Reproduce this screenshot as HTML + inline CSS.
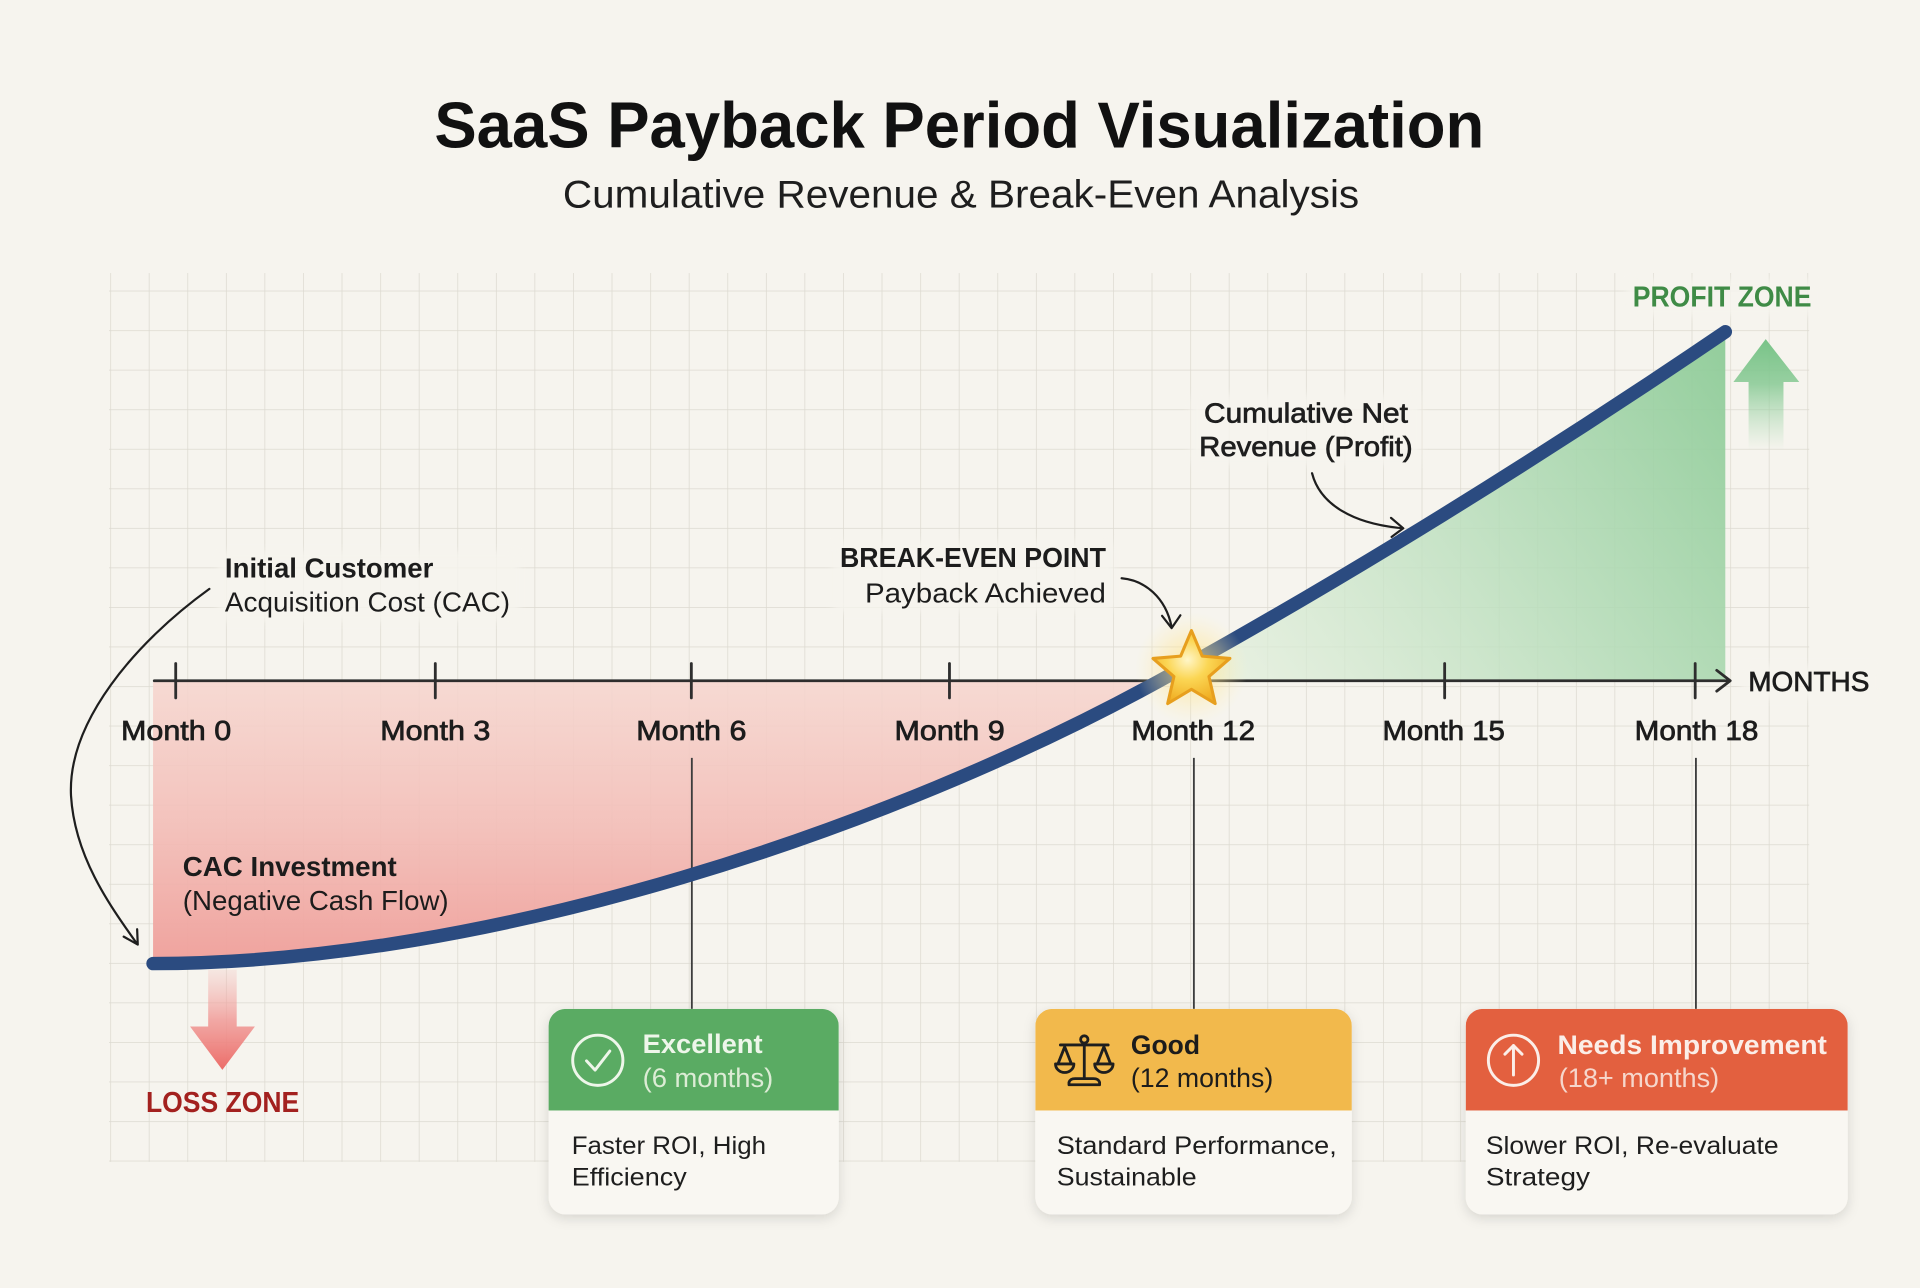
<!DOCTYPE html>
<html>
<head>
<meta charset="utf-8">
<style>
html,body{margin:0;padding:0;background:#f6f4ee;width:1920px;height:1288px;overflow:hidden}
svg{display:block}
</style>
</head>
<body>
<svg width="1920" height="1288" viewBox="0 0 1568 1052" preserveAspectRatio="none" font-family="'Liberation Sans', Arial, sans-serif">
  <defs>
    <pattern id="grid" x="90" y="237.4" width="31.5" height="32.3" patternUnits="userSpaceOnUse">
      <rect x="-0.5" y="0" width="1.1" height="32.3" fill="#dcd9d0"/>
      <rect x="0" y="-0.5" width="31.5" height="1.1" fill="#dcd9d0"/>
    </pattern>
    <linearGradient id="redfill" x1="0" y1="556" x2="0" y2="790" gradientUnits="userSpaceOnUse">
      <stop offset="0" stop-color="#f6d6cf" stop-opacity="0.88"/>
      <stop offset="0.5" stop-color="#f3bdb7" stop-opacity="0.9"/>
      <stop offset="1" stop-color="#ef9d98" stop-opacity="0.95"/>
    </linearGradient>
    <linearGradient id="greenfill" x1="1409" y1="271" x2="1000" y2="556" gradientUnits="userSpaceOnUse">
      <stop offset="0" stop-color="#8dcb97" stop-opacity="0.95"/>
      <stop offset="0.45" stop-color="#b2dbb6" stop-opacity="0.85"/>
      <stop offset="1" stop-color="#e2efdc" stop-opacity="0.7"/>
    </linearGradient>
    <linearGradient id="greenarrow" x1="0" y1="277" x2="0" y2="368" gradientUnits="userSpaceOnUse">
      <stop offset="0" stop-color="#78c387" stop-opacity="1"/>
      <stop offset="0.4" stop-color="#86c993" stop-opacity="0.85"/>
      <stop offset="1" stop-color="#a8d9b0" stop-opacity="0"/>
    </linearGradient>
    <linearGradient id="redarrow" x1="0" y1="792" x2="0" y2="874" gradientUnits="userSpaceOnUse">
      <stop offset="0" stop-color="#f3b1ae" stop-opacity="0.2"/>
      <stop offset="0.5" stop-color="#f09592" stop-opacity="0.8"/>
      <stop offset="1" stop-color="#ec6c68" stop-opacity="1"/>
    </linearGradient>
    <radialGradient id="glow" cx="0.5" cy="0.5" r="0.5">
      <stop offset="0" stop-color="#ffe27a" stop-opacity="0.75"/>
      <stop offset="0.6" stop-color="#ffe9a0" stop-opacity="0.35"/>
      <stop offset="1" stop-color="#fff2c0" stop-opacity="0"/>
    </radialGradient>
    <radialGradient id="starfill" cx="0.45" cy="0.4" r="0.6">
      <stop offset="0" stop-color="#fff6c8"/>
      <stop offset="0.45" stop-color="#fbd654"/>
      <stop offset="1" stop-color="#f0ad22"/>
    </radialGradient>
    <filter id="shadow" x="-20%" y="-20%" width="140%" height="150%">
      <feDropShadow dx="0" dy="3" stdDeviation="5" flood-color="#000" flood-opacity="0.13"/>
    </filter>
    <filter id="soft" x="-10%" y="-30%" width="120%" height="160%">
      <feGaussianBlur stdDeviation="3"/>
    </filter>
    <clipPath id="c1"><rect x="448" y="824" width="237" height="168" rx="14"/></clipPath>
    <clipPath id="c2"><rect x="845.5" y="824" width="258.5" height="168" rx="14"/></clipPath>
    <clipPath id="c3"><rect x="1197" y="824" width="312" height="168" rx="14"/></clipPath>
  </defs>

  <rect x="0" y="0" width="1568" height="1052" fill="#f6f4ee"/>

  <rect x="89" y="223" width="1388.5" height="726" fill="url(#grid)"/>

  <text x="354.7" y="120.3" font-size="53" font-weight="bold" fill="#111" textLength="857.5" lengthAdjust="spacingAndGlyphs">SaaS Payback Period Visualization</text>
  <text x="459.7" y="169.3" font-size="32" fill="#1e1e1e" textLength="650.3" lengthAdjust="spacingAndGlyphs">Cumulative Revenue &amp; Break-Even Analysis</text>

  <path d="M125,787 C400,787 727,677 947,556 L125,556 Z" fill="url(#redfill)"/>
  <path d="M947,556 C1097,473.5 1259,373 1409,271 L1409,556 Z" fill="url(#greenfill)"/>

  <path d="M1442,277 L1469.4,312 L1456.5,312 L1456.5,368 L1428,368 L1428,312 L1415.6,312 Z" fill="url(#greenarrow)"/>
  <path d="M170,792 L193.3,792 L193.3,838.4 L208.2,838.4 L181.6,873.8 L155.2,838.4 L170,838.4 Z" fill="url(#redarrow)"/>

  <g stroke="#3d3d3d" stroke-width="1.5">
    <line x1="565" y1="619" x2="565" y2="825"/>
    <line x1="975" y1="619" x2="975" y2="825"/>
    <line x1="1385" y1="619" x2="1385" y2="825"/>
  </g>

  <g stroke="#2e2e2e" stroke-width="2.3" fill="none" stroke-linecap="round" stroke-linejoin="round">
    <line x1="126" y1="556" x2="1412" y2="556"/>
    <polyline points="1402,547.5 1413,556 1402,564.5"/>
    <line x1="143.5" y1="542" x2="143.5" y2="570"/>
    <line x1="355.5" y1="542" x2="355.5" y2="570"/>
    <line x1="564.6" y1="542" x2="564.6" y2="570"/>
    <line x1="775.4" y1="542" x2="775.4" y2="570"/>
    <line x1="1179.8" y1="542" x2="1179.8" y2="570"/>
    <line x1="1384.4" y1="542" x2="1384.4" y2="570"/>
  </g>

  <path d="M125,787 C400,787 727,677 947,556 C1097,473.5 1259,373 1409,271" fill="none" stroke="#2b4b80" stroke-width="11" stroke-linecap="round" stroke-linejoin="round"/>

  <circle cx="973" cy="546" r="46" fill="url(#glow)"/>
  <path d="M973,515 L981.8,535.9 L1004.4,537.8 L987.3,552.6 L992.4,574.7 L973,563 L953.6,574.7 L958.7,552.6 L941.6,537.8 L964.2,535.9 Z" fill="url(#starfill)" stroke="#e79f1e" stroke-width="2.5" stroke-linejoin="round"/>

  <g fill="#f6f4ee" opacity="0.85" filter="url(#soft)">
    <rect x="178" y="450" width="246" height="58" rx="6"/>
    <rect x="680" y="442" width="230" height="58" rx="6"/>
    <rect x="972" y="322" width="188" height="58" rx="6"/>
    <rect x="1328" y="228" width="156" height="30" rx="6"/>
    <rect x="1422" y="543" width="110" height="28" rx="6"/>
  </g>

  <text x="1333.4" y="250.5" font-size="23.5" font-weight="bold" fill="#3f8b46" textLength="146" lengthAdjust="spacingAndGlyphs">PROFIT ZONE</text>
  <text x="983.3" y="344.9" font-size="23" fill="#1e1e1e" stroke="#1e1e1e" stroke-width="0.6" textLength="166.5" lengthAdjust="spacingAndGlyphs">Cumulative Net</text>
  <text x="979.3" y="372.4" font-size="23" fill="#1e1e1e" stroke="#1e1e1e" stroke-width="0.6" textLength="174.4" lengthAdjust="spacingAndGlyphs">Revenue (Profit)</text>

  <text x="183.7" y="471.5" font-size="22.7" font-weight="bold" fill="#1c1c1c" textLength="170.2" lengthAdjust="spacingAndGlyphs">Initial Customer</text>
  <text x="183.7" y="499.5" font-size="22.7" fill="#1c1c1c" textLength="232.8" lengthAdjust="spacingAndGlyphs">Acquisition Cost (CAC)</text>

  <text x="686" y="463.3" font-size="22.7" font-weight="bold" fill="#1c1c1c" textLength="217.2" lengthAdjust="spacingAndGlyphs">BREAK-EVEN POINT</text>
  <text x="706.4" y="492.2" font-size="22.7" fill="#1c1c1c" textLength="196.8" lengthAdjust="spacingAndGlyphs">Payback Achieved</text>

  <text x="1427.7" y="564.3" font-size="23" fill="#1c1c1c" stroke="#1c1c1c" stroke-width="0.6" textLength="99" lengthAdjust="spacingAndGlyphs">MONTHS</text>

  <g font-size="22.7" fill="#1c1c1c" stroke="#1c1c1c" stroke-width="0.6" text-anchor="middle">
    <text x="143.8" y="604.3" textLength="90" lengthAdjust="spacingAndGlyphs">Month 0</text>
    <text x="355.5" y="604.3" textLength="90" lengthAdjust="spacingAndGlyphs">Month 3</text>
    <text x="564.6" y="604.3" textLength="90" lengthAdjust="spacingAndGlyphs">Month 6</text>
    <text x="775.5" y="604.3" textLength="90" lengthAdjust="spacingAndGlyphs">Month 9</text>
    <text x="974.5" y="604.3" textLength="101" lengthAdjust="spacingAndGlyphs">Month 12</text>
    <text x="1179" y="604.3" textLength="100" lengthAdjust="spacingAndGlyphs">Month 15</text>
    <text x="1385.5" y="604.3" textLength="101" lengthAdjust="spacingAndGlyphs">Month 18</text>
  </g>

  <text x="149.3" y="715.4" font-size="22.7" font-weight="bold" fill="#1c1c1c" textLength="174.7" lengthAdjust="spacingAndGlyphs">CAC Investment</text>
  <text x="149.3" y="743.2" font-size="22.7" fill="#1c1c1c" textLength="217.1" lengthAdjust="spacingAndGlyphs">(Negative Cash Flow)</text>

  <text x="119.2" y="908.4" font-size="23.5" font-weight="bold" fill="#a3211f" textLength="125.2" lengthAdjust="spacingAndGlyphs">LOSS ZONE</text>

  <g fill="none" stroke="#1e1e1e" stroke-width="1.8" stroke-linecap="round" stroke-linejoin="round">
    <path d="M171,481 C110,525 55,590 58,650 C61,700 90,740 112,771"/>
    <polyline points="101,765 112.5,771.5 112,759"/>
    <path d="M916,472.3 C935,474 952,488 956.8,512"/>
    <polyline points="949,503 956.8,513 964,502.5"/>
    <path d="M1071.5,386.5 C1078,412 1105,428 1145.8,431.5"/>
    <polyline points="1136,423 1146,431.5 1136.5,438.5"/>
  </g>

  <!-- Card 1 -->
  <g filter="url(#shadow)">
    <rect x="448" y="824" width="237" height="168" rx="14" fill="#f9f7f2"/>
  </g>
  <g clip-path="url(#c1)">
    <rect x="448" y="824" width="237" height="83" fill="#5aab63"/>
  </g>
  <circle cx="488.2" cy="866" r="20.5" fill="none" stroke="#eef6ea" stroke-width="2.4"/>
  <polyline points="479,866.5 486,874 498,858.5" fill="none" stroke="#eef6ea" stroke-width="2.4" stroke-linecap="round" stroke-linejoin="round"/>
  <text x="524.8" y="860.2" font-size="22" font-weight="bold" fill="#eef6ea" textLength="98" lengthAdjust="spacingAndGlyphs">Excellent</text>
  <text x="524.8" y="887.8" font-size="22" fill="#dcecd5" textLength="106.7" lengthAdjust="spacingAndGlyphs">(6 months)</text>
  <text x="466.9" y="942.4" font-size="20.5" fill="#1e1e1e" textLength="158.7" lengthAdjust="spacingAndGlyphs">Faster ROI, High</text>
  <text x="466.9" y="968.3" font-size="20.5" fill="#1e1e1e" textLength="93.9" lengthAdjust="spacingAndGlyphs">Efficiency</text>

  <!-- Card 2 -->
  <g filter="url(#shadow)">
    <rect x="845.5" y="824" width="258.5" height="168" rx="14" fill="#f9f7f2"/>
  </g>
  <g clip-path="url(#c2)">
    <rect x="845.5" y="824" width="258.5" height="83" fill="#f2b94c"/>
  </g>
  <g fill="none" stroke="#1e1e1e" stroke-width="2.3" stroke-linecap="round" stroke-linejoin="round">
    <line x1="885.5" y1="852" x2="885.5" y2="881"/>
    <circle cx="885.5" cy="849" r="3"/>
    <line x1="866" y1="853.5" x2="905" y2="853.5"/>
    <polyline points="864,869 869.5,855 875,869"/>
    <path d="M862,869 L877,869 A7.5,7 0 0 1 862,869 Z"/>
    <polyline points="896,869 901.5,855 907,869"/>
    <path d="M894,869 L909,869 A7.5,7 0 0 1 894,869 Z"/>
    <path d="M873,886 L898,886 L898,884 Q897,881 893,881 L878,881 Q874,881 873,884 Z"/>
  </g>
  <text x="923.6" y="861" font-size="22" font-weight="bold" fill="#1c1c1c" textLength="56.4" lengthAdjust="spacingAndGlyphs">Good</text>
  <text x="923.6" y="888" font-size="22" fill="#1c1c1c" textLength="116.2" lengthAdjust="spacingAndGlyphs">(12 months)</text>
  <text x="863" y="942.4" font-size="20.5" fill="#1e1e1e" textLength="228.7" lengthAdjust="spacingAndGlyphs">Standard Performance,</text>
  <text x="863" y="968.3" font-size="20.5" fill="#1e1e1e" textLength="114.3" lengthAdjust="spacingAndGlyphs">Sustainable</text>

  <!-- Card 3 -->
  <g filter="url(#shadow)">
    <rect x="1197" y="824" width="312" height="168" rx="14" fill="#f9f7f2"/>
  </g>
  <g clip-path="url(#c3)">
    <rect x="1197" y="824" width="312" height="83" fill="#e3603f"/>
  </g>
  <circle cx="1236" cy="866" r="20.5" fill="none" stroke="#fbeee8" stroke-width="2.4"/>
  <g fill="none" stroke="#fbeee8" stroke-width="2.4" stroke-linecap="round" stroke-linejoin="round">
    <line x1="1236" y1="878" x2="1236" y2="854"/>
    <polyline points="1229,861 1236,854 1243,861"/>
  </g>
  <text x="1272" y="861" font-size="22" font-weight="bold" fill="#fbeee8" textLength="220" lengthAdjust="spacingAndGlyphs">Needs Improvement</text>
  <text x="1273" y="888" font-size="22" fill="#f6d7cc" textLength="131" lengthAdjust="spacingAndGlyphs">(18+ months)</text>
  <text x="1213.5" y="942.4" font-size="20.5" fill="#1e1e1e" textLength="239" lengthAdjust="spacingAndGlyphs">Slower ROI, Re-evaluate</text>
  <text x="1213.5" y="968.3" font-size="20.5" fill="#1e1e1e" textLength="85" lengthAdjust="spacingAndGlyphs">Strategy</text>
</svg>
</body>
</html>
